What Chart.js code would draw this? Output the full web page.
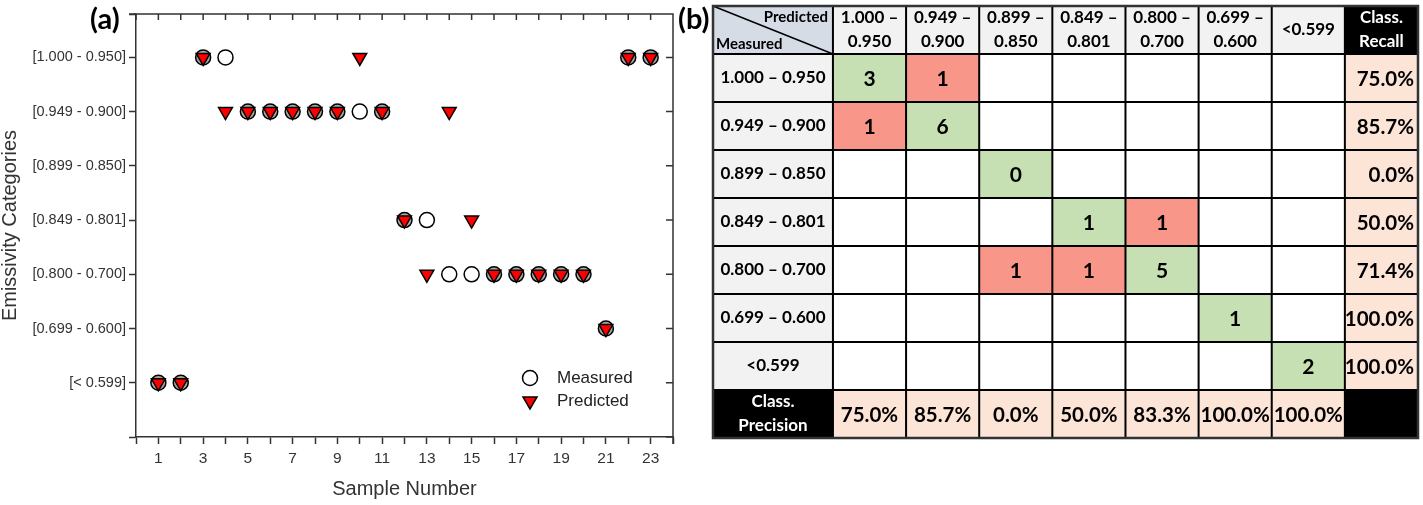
<!DOCTYPE html>
<html>
<head>
<meta charset="utf-8">
<title>Emissivity categories - measured vs predicted</title>
<script src="https://cdn.jsdelivr.net/npm/chart.js@4.4.1/dist/chart.umd.min.js"></script>
<style>
  body { margin: 0; background: #fff; }
  #wrap { position: relative; width: 1423px; height: 505px; overflow: hidden; }
  #panelA { position: absolute; left: 0; top: 0; }
  #panelB { position: absolute; left: 700px; top: 0; }
  .tag { position: absolute; top: 0px; font: bold 29px Lato, sans-serif; color: #000; }
</style>
</head>
<body>
<div id="wrap">
  <canvas id="panelA" width="700" height="505"></canvas>
  <canvas id="panelB" width="723" height="505"></canvas>
  <div class="tag" style="left:90px">(a)</div>
  <div class="tag" style="left:678px">(b)</div>
</div>
<script>
// ---- data, panel (a) ----
// category level: 0 = [< 0.599] ... 6 = [1.000 - 0.950]
var emissivityLabels = ['[< 0.599]', '[0.699 - 0.600]', '[0.800 - 0.700]', '[0.849 - 0.801]',
    '[0.899 - 0.850]', '[0.949 - 0.900]', '[1.000 - 0.950]'];
var sampleNumbers = [1, 2, 3, 4, 5, 6, 7, 8, 9, 10, 11, 12, 13, 14, 15, 16, 17, 18, 19, 20, 21, 22, 23];
var measuredLevel = [0, 0, 6, 6, 5, 5, 5, 5, 5, 5, 5, 3, 3, 2, 2, 2, 2, 2, 2, 2, 1, 6, 6];
var predictedLevel = [0, 0, 6, 5, 5, 5, 5, 5, 5, 6, 5, 3, 2, 5, 3, 2, 2, 2, 2, 2, 1, 6, 6];

// ---- data, panel (b) ----
var predictedHeaders = [['1.000 \u2013', '0.950'], ['0.949 \u2013', '0.900'], ['0.899 \u2013', '0.850'],
    ['0.849 \u2013', '0.801'], ['0.800 \u2013', '0.700'], ['0.699 \u2013', '0.600'], ['<0.599']];
var measuredHeaders = ['1.000 \u2013 0.950', '0.949 \u2013 0.900', '0.899 \u2013 0.850', '0.849 \u2013 0.801',
    '0.800 \u2013 0.700', '0.699 \u2013 0.600', '<0.599'];
var confusion = [
    [3, 1, null, null, null, null, null],
    [1, 6, null, null, null, null, null],
    [null, null, 0, null, null, null, null],
    [null, null, null, 1, 1, null, null],
    [null, null, 1, 1, 5, null, null],
    [null, null, null, null, null, 1, null],
    [null, null, null, null, null, null, 2]
];
var classRecall = [75.0, 85.7, 0.0, 50.0, 71.4, 100.0, 100.0];
var classPrecision = [75.0, 85.7, 0.0, 50.0, 83.3, 100.0, 100.0];

var axisColor = '#333';

function toPoints(xs, ys) {
    var pts = [];
    for (var i = 0; i < xs.length; i++) pts.push({ x: xs[i], y: ys[i] });
    return pts;
}

// top and right frame lines with inward ticks
var frameTicks = {
    id: 'frameTicks',
    afterDraw: function (chart) {
        var ctx = chart.ctx, a = chart.chartArea;
        var sx = chart.scales.x, sy = chart.scales.y;
        ctx.save();
        ctx.strokeStyle = axisColor;
        ctx.lineWidth = 1.5;
        ctx.beginPath();
        ctx.moveTo(a.left - 7, a.top); ctx.lineTo(a.right, a.top); ctx.lineTo(a.right, a.bottom + 7);
        sx.ticks.forEach(function (t) {
            var x = sx.getPixelForValue(t.value);
            ctx.moveTo(x, a.top); ctx.lineTo(x, a.top + 6);
        });
        sy.ticks.forEach(function (t) {
            var y = sy.getPixelForValue(t.value);
            ctx.moveTo(a.right, y); ctx.lineTo(a.right - 7, y);
        });
        ctx.stroke();
        ctx.restore();
    }
};

// legend in the lower right of the plot
var innerLegend = {
    id: 'innerLegend',
    afterDatasetsDraw: function (chart) {
        var ctx = chart.ctx, a = chart.chartArea;
        var x = a.right - 143, y = a.bottom - 59;
        ctx.save();
        chart.data.datasets.forEach(function (ds, i) {
            var yy = y + i * 23;
            ctx.lineWidth = 1.5;
            ctx.strokeStyle = '#000';
            ctx.fillStyle = ds.legendFill;
            if (ds.pointStyle === 'circle') {
                ctx.beginPath();
                ctx.arc(x, yy, 7.5, 0, Math.PI * 2);
            } else {
                ctx.beginPath();
                ctx.moveTo(x - 7, yy - 4);
                ctx.lineTo(x + 7, yy - 4);
                ctx.lineTo(x, yy + 8);
                ctx.closePath();
            }
            ctx.fill();
            ctx.stroke();
            ctx.fillStyle = '#222';
            ctx.font = '17px "Liberation Sans", Arial, sans-serif';
            ctx.textBaseline = 'middle';
            ctx.fillText(ds.label, x + 27, yy);
        });
        ctx.restore();
    }
};

new Chart(document.getElementById('panelA'), {
    type: 'scatter',
    data: {
        datasets: [
            {
                label: 'Measured',
                data: toPoints(sampleNumbers, measuredLevel),
                pointStyle: 'circle',
                pointRadius: 7.5,
                borderWidth: 1.5,
                borderColor: '#000',
                legendFill: '#fff',
                // grey fill where the prediction sits on top of the measurement
                backgroundColor: measuredLevel.map(function (v, i) {
                    return v === predictedLevel[i] ? '#a6a6a6' : '#fff';
                }),
                order: 2
            },
            {
                label: 'Predicted',
                data: toPoints(sampleNumbers, predictedLevel),
                pointStyle: 'triangle',
                rotation: 180,
                pointRadius: 8,
                borderWidth: 1.5,
                borderColor: '#000',
                backgroundColor: '#ff0000',
                legendFill: '#ff0000',
                order: 1
            }
        ]
    },
    options: {
        responsive: false,
        animation: false,
        layout: { padding: { top: 14, right: 27, left: 0, bottom: 0 } },
        plugins: { legend: { display: false }, tooltip: { enabled: false } },
        scales: {
            x: {
                type: 'linear',
                min: 0,
                max: 24,
                afterFit: function (scale) { scale.height = 68; },
                ticks: {
                    stepSize: 1,
                    autoSkip: false,
                    maxRotation: 0,
                    padding: 5,
                    color: axisColor,
                    font: { family: '"Liberation Sans", Arial, sans-serif', size: 15.5 },
                    callback: function (v) { return v % 2 === 1 ? v : ''; }
                },
                grid: { drawOnChartArea: false, drawTicks: true, tickLength: 7, tickWidth: 1.5, tickColor: axisColor },
                border: { display: true, color: axisColor, width: 1.5 },
                title: {
                    display: true,
                    text: 'Sample Number',
                    color: axisColor,
                    padding: { top: 0, bottom: 4 },
                    font: { family: '"Liberation Sans", Arial, sans-serif', size: 20 }
                }
            },
            y: {
                type: 'linear',
                min: -1,
                max: 6.8,
                afterFit: function (scale) { scale.width = 136; },
                afterBuildTicks: function (scale) {
                    var t = [{ value: scale.min }];
                    for (var i = 0; i < emissivityLabels.length; i++) t.push({ value: i });
                    t.push({ value: scale.max });
                    scale.ticks = t;
                },
                ticks: {
                    padding: 3,
                    color: axisColor,
                    font: { family: '"Liberation Sans", Arial, sans-serif', size: 14.5 },
                    callback: function (v) { return emissivityLabels[v] || ''; }
                },
                grid: { drawOnChartArea: false, drawTicks: true, tickLength: 7, tickWidth: 1.5, tickColor: axisColor },
                border: { display: true, color: axisColor, width: 1.5 },
                title: {
                    display: true,
                    text: 'Emissivity Categories',
                    color: axisColor,
                    padding: { top: 0, bottom: 0 },
                    font: { family: '"Liberation Sans", Arial, sans-serif', size: 20, lineHeight: 1 }
                }
            }
        }
    },
    plugins: [frameTicks, innerLegend]
});

// ---- panel (b): confusion matrix drawn on linear scales ----
var green = '#c6e0b4', red = '#f8968a', peach = '#fce4d6', headGrey = '#f2f2f2', cornerBlue = '#d6dce5';
var countFont = 'bold 21px Lato, sans-serif';
var pctFont = 'bold 20.5px Lato, sans-serif';
var headFont = 'bold 17px Lato, sans-serif';

function pct(v) { return v.toFixed(1) + '%'; }

var matrixCells = {
    id: 'matrixCells',
    afterDraw: function (chart) {
        var ctx = chart.ctx;
        var sx = chart.scales.x, sy = chart.scales.y;
        var n = measuredHeaders.length;

        function cell(c0, c1, r0, r1) {
            var x0 = sx.getPixelForValue(c0), x1 = sx.getPixelForValue(c1);
            var y0 = sy.getPixelForValue(r0), y1 = sy.getPixelForValue(r1);
            return { x: x0, y: y0, w: x1 - x0, h: y1 - y0, cx: (x0 + x1) / 2, cy: (y0 + y1) / 2 };
        }
        function fill(r, color) {
            ctx.fillStyle = color;
            ctx.fillRect(r.x, r.y, r.w, r.h);
        }
        function text(lines, x, y, font, color, align) {
            if (typeof lines === 'string') lines = [lines];
            ctx.font = font;
            ctx.fillStyle = color;
            ctx.textAlign = align || 'center';
            ctx.textBaseline = 'middle';
            var step = 24;
            var y0 = y - (lines.length - 1) * step / 2;
            for (var i = 0; i < lines.length; i++) ctx.fillText(lines[i], x, y0 + i * step);
        }

        ctx.save();
        var left = sx.min, right = sx.max, top = sy.min, bottom = sy.max;

        // corner cell
        var c = cell(left, 0, top, 0);
        fill(c, cornerBlue);
        ctx.strokeStyle = '#000';
        ctx.lineWidth = 1.5;
        ctx.beginPath();
        ctx.moveTo(c.x, c.y); ctx.lineTo(c.x + c.w, c.y + c.h);
        ctx.stroke();
        text('Predicted', c.x + c.w - 5, c.y + 11, 'bold 15px Lato, sans-serif', '#000', 'right');
        text('Measured', c.x + 3, c.y + c.h - 10, 'bold 15px Lato, sans-serif', '#000', 'left');

        // column headers
        for (var j = 0; j < n; j++) {
            var h = cell(j, j + 1, top, 0);
            fill(h, headGrey);
            text(predictedHeaders[j], h.cx, h.cy, headFont, '#000');
        }
        var rh = cell(n, right, top, 0);
        fill(rh, '#000');
        text(['Class.', 'Recall'], rh.cx, rh.cy, headFont, '#fff');

        // body rows
        for (var i = 0; i < n; i++) {
            var r = cell(left, 0, i, i + 1);
            fill(r, headGrey);
            text(measuredHeaders[i], r.cx, r.cy, headFont, '#000');
            for (var k = 0; k < n; k++) {
                var m = cell(k, k + 1, i, i + 1);
                var v = confusion[i][k];
                var col = '#fff';
                if (v !== null) col = (i === k) ? green : red;
                fill(m, col);
                if (v !== null) text(String(v), m.cx, m.cy + 1, countFont, '#000');
            }
            var rc = cell(n, right, i, i + 1);
            fill(rc, peach);
            text(pct(classRecall[i]), rc.x + rc.w - 4, rc.cy + 1, pctFont, '#000', 'right');
        }

        // precision row
        var pr = cell(left, 0, n, bottom);
        fill(pr, '#000');
        text(['Class.', 'Precision'], pr.cx, pr.cy, headFont, '#fff');
        for (var p = 0; p < n; p++) {
            var pc = cell(p, p + 1, n, bottom);
            fill(pc, peach);
            text(pct(classPrecision[p]), pc.cx, pc.cy + 1, pctFont, '#000');
        }
        fill(cell(n, right, n, bottom), '#000');

        // grid lines
        ctx.strokeStyle = '#000';
        ctx.lineWidth = 2;
        ctx.beginPath();
        var xLines = [left];
        for (var q = 0; q <= n; q++) xLines.push(q);
        xLines.push(right);
        xLines.forEach(function (xv) {
            var x = sx.getPixelForValue(xv);
            ctx.moveTo(x, sy.getPixelForValue(top)); ctx.lineTo(x, sy.getPixelForValue(bottom));
        });
        for (var yv = top; yv <= bottom; yv++) {
            var y = sy.getPixelForValue(yv);
            ctx.moveTo(sx.getPixelForValue(left), y); ctx.lineTo(sx.getPixelForValue(right), y);
        }
        ctx.stroke();
        ctx.strokeStyle = '#333';
        ctx.lineWidth = 2.5;
        ctx.strokeRect(sx.getPixelForValue(left), sy.getPixelForValue(top),
            sx.getPixelForValue(right) - sx.getPixelForValue(left), sy.getPixelForValue(bottom) - sy.getPixelForValue(top));
        ctx.restore();
    }
};

new Chart(document.getElementById('panelB'), {
    type: 'scatter',
    data: { datasets: [{ data: [], pointRadius: 0 }] },
    options: {
        responsive: false,
        animation: false,
        layout: { padding: { left: 13, right: 5, top: 6, bottom: 67 } },
        plugins: { legend: { display: false }, tooltip: { enabled: false } },
        scales: {
            // header column is wider than the class columns
            x: { type: 'linear', min: -1.64, max: 8, display: false },
            y: { type: 'linear', min: -1, max: 8, reverse: true, display: false }
        }
    },
    plugins: [matrixCells]
});
</script>
</body>
</html>
